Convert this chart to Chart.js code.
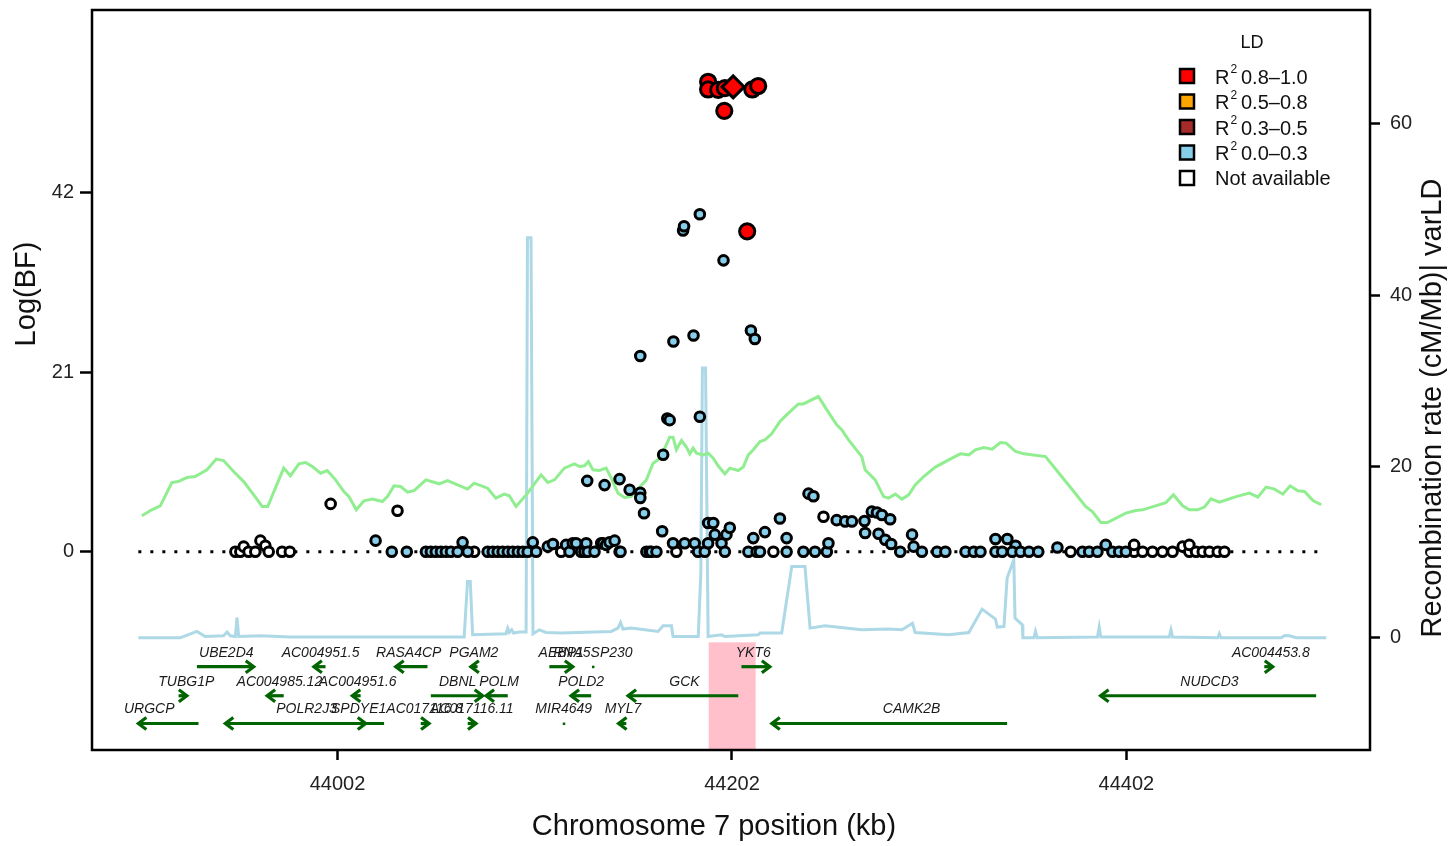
<!DOCTYPE html>
<html>
<head>
<meta charset="utf-8">
<script src="https://cdn.jsdelivr.net/npm/chart.js@4/dist/chart.umd.min.js"></script>
<style>
  html, body { margin: 0; padding: 0; background: #fff; }
  canvas { display: block; }
</style>
</head>
<body>
<canvas id="c" width="1450" height="846"></canvas>
<script>
// ---- 数据 ----
const xTicks = [44002, 44202, 44402];
const yTicks = [0, 21, 42];
const y2Ticks = [0, 20, 40, 60];

// 重组率 (cM/Mb)
const recombPos = [43901.0, 43922.2, 43930.7, 43934.9, 43944.2, 43946.0, 43947.6, 43950.2, 43951.0, 43951.9,
  43962.9, 43978.1, 44066.2, 44067.9, 44069.3, 44070.5, 44087.4, 44088.3, 44089.1, 44090.3,
  44091.3, 44094.2, 44097.6, 44098.3, 44100.1, 44101.1, 44104.3, 44107.7, 44115.4, 44140.8,
  44144.2, 44145.5, 44146.7, 44150.9, 44164.5, 44167.1, 44171.3, 44172.1, 44184.9, 44186.2,
  44187.0, 44188.6, 44189.9, 44196.7, 44198.4, 44215.3, 44216.2, 44227.2, 44232.3, 44239.0,
  44241.6, 44249.2, 44267.8, 44281.4, 44288.2, 44293.5, 44294.9, 44311.9, 44322.1, 44328.8,
  44335.6, 44336.5, 44339.9, 44341.5, 44344.9, 44345.5, 44349.2, 44349.5, 44355.1, 44355.9,
  44356.8, 44387.3, 44388.2, 44389.0, 44423.7, 44424.6, 44425.4, 44448.3, 44449.1, 44449.9,
  44480.5, 44482.2, 44484.7, 44488.1, 44503.3];
const recombRate = [0.0, 0.0, 0.74, 0.15, 0.23, 0.67, 0.23, 0.15, 2.37, 0.15,
  0.23, 0.08, 0.08, 6.57, 6.57, 0.35, 0.47, 1.13, 0.62, 0.93,
  0.55, 0.67, 0.67, 46.7, 46.7, 0.47, 0.93, 0.62, 0.55, 0.74,
  1.13, 1.79, 1.02, 1.13, 0.74, 1.40, 1.40, 0.15, 0.15, 7.55,
  31.5, 31.5, 0.15, 0.35, 0.15, 0.35, 0.55, 0.55, 8.32, 8.32,
  1.13, 1.40, 0.93, 1.02, 0.93, 1.69, 0.62, 0.35, 0.62, 3.35,
  2.18, 1.25, 1.32, 6.97, 9.10, 2.30, 1.52, 0.0, 0.0, 0.74,
  0.0, 0.08, 1.25, 0.08, 0.08, 0.93, 0.08, 0.0, 0.47, 0.0,
  0.0, 0.27, 0.23, 0.0, 0.0];

// varLD
const varldPos = [43902.8, 43907.8, 43912.1, 43918.0, 43921.2, 43925.6, 43929.8, 43935.8, 43940.5, 43944.2,
  43949.3, 43954.4, 43959.5, 43963.8, 43966.6, 43974.7, 43978.1, 43982.4, 43985.8, 43989.2,
  43993.4, 43996.8, 44001.0, 44005.2, 44007.8, 44011.5, 44015.4, 44019.7, 44024.7, 44027.3,
  44030.6, 44034.0, 44037.5, 44040.8, 44046.8, 44053.5, 44057.8, 44062.9, 44067.9, 44071.3,
  44078.1, 44082.3, 44086.5, 44089.1, 44092.5, 44098.4, 44105.2, 44108.6, 44112.0, 44117.0,
  44122.1, 44124.7, 44127.2, 44129.2, 44131.5, 44134.8, 44138.2, 44140.8, 44144.2, 44147.5,
  44150.9, 44154.3, 44158.6, 44162.0, 44164.5, 44166.2, 44170.4, 44172.1, 44173.8, 44176.4,
  44178.9, 44180.6, 44182.3, 44184.0, 44187.4, 44189.9, 44192.5, 44195.0, 44198.4, 44200.9,
  44205.2, 44207.7, 44210.3, 44212.8, 44216.2, 44218.7, 44222.1, 44226.3, 44229.7, 44235.7,
  44238.2, 44245.8, 44250.1, 44255.1, 44257.7, 44261.1, 44264.4, 44267.8, 44269.5, 44274.6,
  44278.9, 44281.4, 44284.8, 44288.2, 44291.6, 44294.9, 44299.2, 44305.1, 44311.9, 44317.8,
  44322.1, 44325.4, 44329.7, 44333.9, 44338.1, 44341.0, 44345.8, 44350.0, 44361.0, 44367.8,
  44374.6, 44381.3, 44384.7, 44389.0, 44392.4, 44401.7, 44406.8, 44410.2, 44422.0, 44425.8,
  44430.5, 44433.9, 44438.1, 44441.5, 44444.9, 44449.1, 44457.6, 44464.4, 44468.6, 44472.8,
  44477.1, 44481.3, 44485.0, 44488.9, 44492.3, 44496.6, 44500.8];
const varldVal = [14.24, 14.94, 15.41, 18.13, 18.24, 18.71, 18.83, 19.61, 20.86, 20.70,
  19.41, 18.24, 16.69, 15.33, 15.33, 19.81, 18.91, 20.31, 20.46, 20.00,
  19.22, 19.53, 18.44, 17.08, 16.49, 14.94, 15.99, 16.19, 15.91, 16.49,
  17.74, 17.66, 17.01, 17.19, 18.44, 17.98, 18.36, 17.86, 17.36, 18.06,
  17.47, 16.31, 16.77, 16.58, 15.33, 16.89, 19.03, 18.13, 18.44, 19.81,
  20.31, 20.00, 20.08, 20.58, 19.61, 19.53, 19.81, 18.64, 16.89, 16.38,
  16.49, 17.36, 18.44, 20.39, 20.78, 21.24, 23.43, 23.43, 21.95, 23.03,
  22.26, 21.48, 22.14, 21.56, 21.36, 21.56, 20.98, 20.08, 19.14, 19.81,
  19.53, 19.93, 21.36, 21.95, 22.91, 23.11, 23.81, 25.25, 26.03, 27.31,
  27.31, 28.17, 26.61, 24.86, 24.28, 23.11, 22.14, 21.16, 19.61, 18.44,
  16.49, 16.31, 16.77, 16.19, 16.69, 17.86, 18.83, 19.93, 20.78, 21.48,
  21.36, 21.95, 22.21, 22.03, 22.80, 22.73, 21.75, 21.48, 21.16, 19.22,
  17.28, 15.33, 14.74, 13.46, 13.46, 14.56, 14.86, 14.94, 15.79, 16.69,
  15.41, 14.94, 14.94, 15.26, 16.23, 15.84, 16.49, 16.89, 16.42, 17.59,
  17.36, 16.77, 17.74, 17.16, 17.08, 16.03, 15.53];

// 参考线 Log(BF) = 0 的范围
const zeroLinePos = [43901.0, 44503.3];

// SNP: R2 0.0-0.3
const skyPos = [44021.3, 44029.5, 44037.1,
  44046.8, 44049.3, 44051.8, 44054.4, 44056.9, 44059.5, 44062.9, 44065.4, 44068.0,
  44078.1, 44080.7, 44083.2, 44085.7, 44088.3, 44090.8, 44093.4, 44095.9, 44098.4, 44101.0, 44102.7,
  44108.6, 44111.2, 44117.9, 44119.6, 44121.3, 44123.0, 44125.5, 44127.2, 44128.1, 44128.9,
  44132.3, 44135.7, 44136.6, 44138.2, 44139.9, 44142.5, 44145.0, 44145.5,
  44158.6, 44160.3, 44161.1, 44163.7, 44166.6, 44172.1, 44178.0, 44183.1, 44184.8, 44188.2,
  44189.9, 44193.3, 44196.7, 44198.4, 44199.2, 44200.9, 44189.9, 44192.5,
  44210.3, 44212.8, 44214.5, 44216.2, 44218.7, 44226.3, 44229.7, 44229.7, 44238.2, 44244.1,
  44250.1, 44250.9, 44240.8, 44243.3, 44255.1, 44259.4, 44262.8,
  44269.5, 44272.9, 44275.5, 44278.0, 44282.2, 44269.2, 44276.3, 44279.7, 44282.7, 44287.3,
  44293.3, 44294.1, 44298.3, 44306.0, 44310.2, 44320.4, 44324.6, 44328.0,
  44335.6, 44341.6, 44345.8, 44335.6, 44339.0, 44344.1, 44348.3, 44352.6, 44357.3, 44367.0,
  44379.7, 44383.1, 44387.3, 44391.5, 44394.9, 44398.3, 44401.7,
  44128.6, 44137.4, 44145.0, 44150.1, 44155.5, 44155.5, 44157.4, 44167.1, 44169.2, 44170.4,
  44185.7, 44155.5, 44172.3, 44182.5, 44211.6, 44213.6, 44197.7, 44177.2, 44177.7, 44185.7];
const skyLogBF = [1.3, 0, 0,
  0, 0, 0, 0, 0, 0, 0, 1.1, 0,
  0, 0, 0, 0, 0, 0, 0, 0, 0, 1.1, 0,
  0.6, 0.9, 0.8, 0, 1.0, 1.0, 0, 0, 1.0, 0,
  0, 1.0, 1.0, 0.8, 1.1, 1.3, 0, 0,
  0, 0, 0, 0, 2.4, 1.0, 1.0, 1.0, 0, 0,
  1.0, 2.0, 1.0, 0, 2.0, 2.8, 3.36, 3.36,
  0, 1.6, 0, 0, 2.3, 3.9, 1.6, 0, 0, 0,
  0, 1.0, 6.8, 6.5, 3.7, 3.55, 3.55,
  2.2, 4.7, 4.6, 4.3, 3.8, 3.6, 2.1, 1.4, 0.9, 0,
  2.0, 0.6, 0, 0, 0, 0, 0, 0,
  1.5, 1.5, 0.7, 0, 0, 0, 0, 0, 0, 0.5,
  0, 0, 0, 0.8, 0, 0, 0,
  8.3, 7.8, 8.5, 7.25, 6.9, 6.3, 4.5, 11.35, 15.6, 15.4,
  15.8, 22.9, 24.6, 25.3, 25.9, 24.9, 34.1, 37.6, 38.1, 39.5];

// SNP: 无 LD 信息
const naPos = [43950.2, 43952.7, 43954.4, 43956.9, 43960.3, 43962.9, 43965.4, 43967.1, 43973.9, 43977.8,
  43998.5, 44032.4, 44071.3, 44115.4, 44173.8, 44223.0, 44248.4, 44373.7,
  44405.9, 44405.9, 44410.2, 44415.2, 44420.3, 44425.4, 44430.5, 44433.9, 44433.9, 44437.3,
  44440.7, 44444.1, 44448.3, 44451.7];
const naLogBF = [0, 0, 0.6, 0, 0, 1.3, 0.7, 0, 0, 0,
  5.6, 4.8, 0, 0, 0, 0, 4.1, 0,
  0, 0.8, 0, 0, 0, 0, 0.6, 0, 0.8, 0,
  0, 0, 0, 0];

// SNP: R2 0.8-1.0
const redPos = [44189.9, 44189.9, 44195.0, 44198.4, 44212.3, 44215.3, 44198.1, 44209.7];
const redLogBF = [55.0, 54.1, 54.05, 54.25, 54.1, 54.5, 51.6, 37.5];

// 先导 SNP
const leadPos = [44202.6];
const leadLogBF = [54.4];

// 基因
const geneNames = ['UBE2D4', 'AC004951.5', 'RASA4CP', 'PGAM2', 'AEBP1', 'RNA5SP230', 'YKT6', 'AC004453.8',
  'TUBG1P', 'AC004985.12', 'AC004951.6', 'DBNL', 'POLM', 'POLD2', 'GCK', 'NUDCD3',
  'URGCP', 'POLR2J3', 'SPDYE1', 'AC017116.8', 'AC017116.11', 'MIR4649', 'MYL7', 'CAMK2B'];
const geneStart = [43930.7, 43990.0, 44031.5, 44069.6, 44109.4, 44131.5, 44206.8, 44471.9,
  43921.4, 43966.3, 44009.5, 44049.3, 44077.3, 44120.4, 44149.3, 44388.9,
  43901.0, 43945.1, 43983.2, 44044.2, 44068.0, 44116.7, 44144.5, 44222.2];
const geneEnd = [43959.5, 43995.9, 44047.6, 44073.0, 44121.3, 44131.5, 44221.2, 44476.2,
  43925.6, 43974.7, 44013.7, 44075.6, 44088.3, 44130.6, 44205.2, 44498.2,
  43931.5, 44025.6, 44016.3, 44048.4, 44072.2, 44116.7, 44148.4, 44341.5];
const geneStrand = ['+', '-', '-', '-', '+', '+', '+', '+',
  '+', '-', '-', '+', '-', '-', '-', '-',
  '-', '-', '+', '+', '+', '+', '-', '-'];
const geneRow = [0, 0, 0, 0, 0, 0, 0, 0,
  1, 1, 1, 1, 1, 1, 1, 1,
  2, 2, 2, 2, 2, 2, 2, 2];
const geneLabelPos = [43945.6, 43993.4, 44038.1, 44071.1, 44115.4, 44131.5, 44212.8, 44475.2,
  43925.3, 43972.5, 44012.2, 44062.9, 44083.9, 44125.5, 44177.9, 44444.1,
  43906.5, 43986.3, 44012.7, 44046.2, 44070.1, 44116.7, 44146.7, 44293.1];

// 可信区间高亮
const regionStart = 44190.2;
const regionEnd = 44214.0;

// 图例
const ldLabels = ['0.8\u20131.0', '0.5\u20130.8', '0.3\u20130.5', '0.0\u20130.3'];
const ldColors = ['#FF0000', '#FFA500', '#A52A2A', '#87CEEB'];

// ---- 样式 / 布局 ----
const FONT = '"Liberation Sans", Arial, Helvetica, sans-serif';
const GENE_GREEN = '#006400';
const geneRowLevel = [-13.45, -16.85, -20.1];   // Log(BF) 轴上的基因行
const regionTop = -10.6, regionBottom = -23.2;

Chart.defaults.font.family = FONT;

const zip = (xs, ys) => xs.map((v, i) => ({ x: v, y: ys[i] }));

// 粉色区域 + 基因轨道
const geneTrack = {
    id: 'geneTrack',
    beforeDatasetsDraw(chart) {
        const { ctx, scales: { x, y } } = chart;
        ctx.save();
        const rx0 = x.getPixelForValue(regionStart), rx1 = x.getPixelForValue(regionEnd);
        const ry0 = y.getPixelForValue(regionTop), ry1 = y.getPixelForValue(regionBottom);
        ctx.fillStyle = '#FFC0CB';
        ctx.fillRect(rx0, ry0, rx1 - rx0, ry1 - ry0);

        ctx.strokeStyle = GENE_GREEN;
        ctx.fillStyle = GENE_GREEN;
        ctx.lineWidth = 3.2;
        ctx.lineCap = 'butt';
        ctx.lineJoin = 'miter';
        geneNames.forEach((name, i) => {
            const py = y.getPixelForValue(geneRowLevel[geneRow[i]]);
            const xs = x.getPixelForValue(geneStart[i]);
            const xe = x.getPixelForValue(geneEnd[i]);
            if (xe - xs < 1) {
                ctx.fillRect(xs - 1, py - 1, 2.5, 2.5);
            } else {
                ctx.beginPath();
                ctx.moveTo(xs, py);
                ctx.lineTo(xe, py);
                ctx.stroke();
                const tip = geneStrand[i] === '+' ? xe : xs;
                const dir = geneStrand[i] === '+' ? -1 : 1;
                ctx.beginPath();
                ctx.moveTo(tip + dir * 8, py - 6);
                ctx.lineTo(tip, py);
                ctx.lineTo(tip + dir * 8, py + 6);
                ctx.stroke();
            }
        });

        ctx.fillStyle = '#1a1a1a';
        ctx.font = 'italic 14px ' + FONT;
        ctx.textAlign = 'center';
        ctx.textBaseline = 'middle';
        geneNames.forEach((name, i) => {
            const py = y.getPixelForValue(geneRowLevel[geneRow[i]]);
            ctx.fillText(name, x.getPixelForValue(geneLabelPos[i]), py - 14);
        });
        ctx.restore();
    }
};

// 边框、坐标轴标题、图例
const frame = {
    id: 'frame',
    afterDraw(chart) {
        const { ctx, chartArea: a } = chart;
        ctx.save();
        ctx.strokeStyle = '#000';
        ctx.lineWidth = 2.5;
        ctx.strokeRect(a.left, a.top, a.right - a.left, a.bottom - a.top);

        ctx.fillStyle = '#111';
        ctx.font = '29px ' + FONT;
        ctx.textAlign = 'center';
        ctx.textBaseline = 'middle';
        ctx.fillText('Chromosome 7 position (kb)', 714, 827);
        ctx.save();
        ctx.translate(27, 294);
        ctx.rotate(-Math.PI / 2);
        ctx.fillText('Log(BF)', 0, 0);
        ctx.restore();
        ctx.save();
        ctx.translate(1433, 408);
        ctx.rotate(-Math.PI / 2);
        ctx.fillText('Recombination rate (cM/Mb)| varLD', 0, 0);
        ctx.restore();

        // 图例
        ctx.font = '18px ' + FONT;
        ctx.fillText('LD', 1252, 43);
        const rowsY = [76, 101.5, 127, 152.5, 178];
        ctx.textAlign = 'left';
        ctx.lineWidth = 2.5;
        rowsY.forEach((ry, i) => {
            ctx.fillStyle = i < 4 ? ldColors[i] : '#FFFFFF';
            ctx.fillRect(1180, ry - 7, 14, 14);
            ctx.strokeRect(1180, ry - 7, 14, 14);
            ctx.fillStyle = '#111';
            ctx.font = '20px ' + FONT;
            if (i < 4) {
                ctx.fillText('R', 1215, ry + 2);
                const w = ctx.measureText('R').width;
                ctx.font = '12px ' + FONT;
                ctx.fillText('2', 1215 + w + 1, ry - 6);
                ctx.font = '20px ' + FONT;
                ctx.fillText(ldLabels[i], 1241, ry + 2);
            } else {
                ctx.fillText('Not available', 1215, ry + 1);
            }
        });
        ctx.restore();
    }
};

const tickStyle = {
    display: true,
    drawOnChartArea: false,
    drawTicks: true,
    color: '#000',
    tickColor: '#000',
    tickWidth: 2.5
};

// 固定坐标轴占位，去掉标签导致的额外边距
const noPad = () => ({ left: 0, top: 0, right: 0, bottom: 0 });
const fixV = w => s => { s.width = w; s.paddingTop = 0; s.paddingBottom = 0; s.getPadding = noPad; };
const fixH = h => s => { s.height = h; s.paddingLeft = 0; s.paddingRight = 0; s.getPadding = noPad; };

new Chart(document.getElementById('c'), {
    type: 'scatter',
    data: {
        datasets: [
            {
                label: 'lead',
                data: zip(leadPos, leadLogBF),
                pointStyle: 'rectRot',
                pointRadius: 11,
                backgroundColor: '#FF0000',
                borderColor: '#000',
                borderWidth: 3,
                yAxisID: 'y',
                order: 0
            },
            {
                label: 'R2 0.8-1.0',
                data: zip(redPos, redLogBF),
                pointRadius: 7.6,
                backgroundColor: '#FF0000',
                borderColor: '#000',
                borderWidth: 3,
                yAxisID: 'y',
                order: 1
            },
            {
                label: 'R2 0.0-0.3',
                data: zip(skyPos, skyLogBF),
                pointRadius: 4.8,
                backgroundColor: '#87CEEB',
                borderColor: '#000',
                borderWidth: 3,
                yAxisID: 'y',
                order: 2
            },
            {
                label: 'NA',
                data: zip(naPos, naLogBF),
                pointRadius: 4.8,
                backgroundColor: '#FFFFFF',
                borderColor: '#000',
                borderWidth: 3,
                yAxisID: 'y',
                order: 3
            },
            {
                label: 'zero',
                data: zip(zeroLinePos, [0, 0]),
                showLine: true,
                pointRadius: 0,
                borderColor: '#000',
                borderWidth: 3,
                borderDash: [3, 9],
                yAxisID: 'y',
                order: 4
            },
            {
                label: 'varLD',
                data: zip(varldPos, varldVal),
                showLine: true,
                pointRadius: 0,
                borderColor: '#90EE90',
                borderWidth: 3,
                tension: 0,
                yAxisID: 'y2',
                order: 5
            },
            {
                label: 'recomb',
                data: zip(recombPos, recombRate),
                showLine: true,
                pointRadius: 0,
                borderColor: '#ADD8E6',
                borderWidth: 3,
                tension: 0,
                yAxisID: 'y2',
                order: 6
            }
        ]
    },
    options: {
        responsive: false,
        devicePixelRatio: 1,
        animation: false,
        layout: { autoPadding: false, padding: { top: 10, left: 0, right: 0, bottom: 0 } },
        plugins: {
            legend: { display: false },
            tooltip: { enabled: false }
        },
        scales: {
            x: {
                type: 'linear',
                position: 'bottom',
                min: 43877.5,
                max: 44525.5,
                afterBuildTicks: s => { s.ticks = xTicks.map(v => ({ value: v })); },
                afterFit: fixH(96),
                border: { display: false },
                grid: Object.assign({ tickLength: 10 }, tickStyle),
                ticks: { font: { size: 20 }, color: '#222', padding: 12, maxRotation: 0, autoSkip: false, callback: v => String(v) }
            },
            y: {
                position: 'left',
                min: -23.2,
                max: 63.4,
                afterBuildTicks: s => { s.ticks = yTicks.map(v => ({ value: v })); },
                afterFit: fixV(92),
                border: { display: false },
                grid: Object.assign({ tickLength: 12 }, tickStyle),
                ticks: { font: { size: 20 }, color: '#222', padding: 6, autoSkip: false, callback: v => String(v) }
            },
            y2: {
                position: 'right',
                min: -13.1,
                max: 73.3,
                afterBuildTicks: s => { s.ticks = y2Ticks.map(v => ({ value: v })); },
                afterFit: fixV(80),
                border: { display: false },
                grid: Object.assign({ tickLength: 10 }, tickStyle),
                ticks: { font: { size: 20 }, color: '#222', padding: 10, autoSkip: false, callback: v => String(v) }
            }
        }
    },
    plugins: [geneTrack, frame]
});
</script>
</body>
</html>
